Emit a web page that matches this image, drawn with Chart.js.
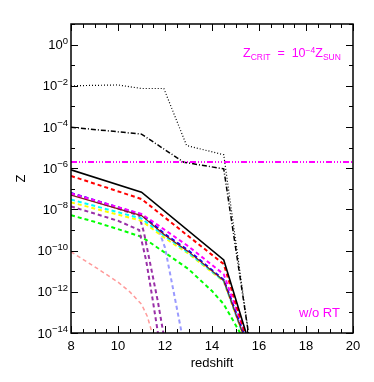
<!DOCTYPE html>
<html>
<head>
<meta charset="utf-8">
<script src="https://cdn.jsdelivr.net/npm/chart.js@4"></script>
<style>
  html, body { margin: 0; padding: 0; background: #fff; }
  #wrap { width: 374px; height: 382px; position: relative; }
</style>
</head>
<body>
<div id="wrap"><canvas id="metalChart"></canvas></div>
<script>
// axis setup
const xRange = [8, 20];
const xMinorStep = 0.5;
const yRange = [1e-14, 10];
const yTickExps = [0, -2, -4, -6, -8, -10, -12, -14];

// curves (redshift, Z)
const zDotted = [8, 9, 10, 11, 11.95, 12.92, 14.5, 15.55];
const valDotted = [1.0e-2, 1.05e-2, 1.1e-2, 7.4e-3, 7.4e-3, 1.26e-5, 4.5e-6, 1e-14];

const zDashDot = [8, 11, 12.8, 14.5, 15.55];
const valDashDot = [9.8e-5, 4.5e-5, 1.95e-6, 9.3e-7, 1e-14];

const zCrit = [8, 20];
const valCrit = [2e-6, 2e-6];

const zSolid = [8, 11, 14.5, 15.45];
const valSolid = [8.3e-7, 6.9e-8, 3.5e-11, 1e-14];

const zRed = [8, 11, 14.5, 15.4];
const valRed = [4.2e-7, 3.2e-8, 2.2e-11, 1e-14];

const zMagenta = [8, 11, 12, 13, 14.5, 15.4];
const valMagenta = [6.0e-8, 6.0e-9, 1.0e-9, 1.6e-10, 7.1e-12, 1e-14];

const zBlue = [8, 11, 12, 13, 14.5, 15.35];
const valBlue = [6.3e-8, 5.6e-9, 6.3e-10, 1.0e-10, 3.8e-12, 1e-14];

const zDarkRed = [8, 11, 12, 13, 14.5, 15.3];
const valDarkRed = [5.0e-8, 5.0e-9, 5.6e-10, 8.9e-11, 3.5e-12, 1e-14];

const zCyan = [8, 11, 12, 13, 14.5, 15.3];
const valCyan = [3.0e-8, 3.6e-9, 5.0e-10, 7.9e-11, 3.4e-12, 1e-14];

const zYellow = [8, 11, 12, 13, 14.5, 15.3];
const valYellow = [2.2e-8, 2.8e-9, 4.0e-10, 7.1e-11, 3.2e-12, 1e-14];

const zGreen = [8, 9, 10, 11, 12, 13, 14, 14.5, 15.2];
const valGreen = [5.2e-9, 2.5e-9, 1.1e-9, 4.7e-10, 7.9e-11, 1.26e-11, 1.1e-12, 2.5e-13, 1e-14];

const zPurpleA = [8, 10, 10.9, 11.1, 11.4, 11.7, 11.93];
const valPurpleA = [5.6e-8, 1.1e-8, 5.0e-9, 7.9e-10, 1.6e-11, 3.2e-13, 1e-14];

const zPurpleB = [8, 9, 10, 10.9, 11.2, 11.45, 11.7];
const valPurpleB = [1.4e-8, 6.3e-9, 2.8e-9, 1.0e-9, 3.2e-11, 6.3e-13, 1e-14];

const zLightBlue = [8, 11, 11.7, 12.0, 12.71];
const valLightBlue = [6.0e-8, 5.6e-9, 1.26e-9, 1.4e-10, 1e-14];

const zSalmon = [8, 9, 10, 10.5, 11, 11.25, 11.45];
const valSalmon = [8.7e-11, 1.66e-11, 2.95e-12, 1.0e-12, 2.5e-13, 6.3e-14, 1e-14];

const FONT = '"Liberation Sans", Arial, sans-serif';
const MAGENTA = '#ff00ff';

function pts(zs, vals) {
    return zs.map((z, i) => ({ x: z, y: vals[i] }));
}

function series(zs, vals, color, width, dash) {
    return {
        data: pts(zs, vals),
        borderColor: color,
        borderWidth: width,
        borderDash: dash,
        pointRadius: 0,
        fill: false,
        tension: 0
    };
}

const DASH = [4, 3];

// inward ticks on all four sides, frame, superscript labels, notes
const idlFrame = {
    id: 'idlFrame',
    afterDraw(chart) {
        const { ctx, chartArea: a, scales: { x, y } } = chart;
        ctx.save();
        ctx.strokeStyle = '#000';
        ctx.lineWidth = 1;
        ctx.beginPath();
        for (let v = xRange[0]; v <= xRange[1] + 1e-9; v += xMinorStep) {
            const px = Math.round(x.getPixelForValue(v)) + 0.5;
            const len = (Math.abs(v % 2) < 1e-9) ? 7 : 4;
            ctx.moveTo(px, a.bottom); ctx.lineTo(px, a.bottom - len);
            ctx.moveTo(px, a.top); ctx.lineTo(px, a.top + len);
        }
        for (let e = -14; e <= 1; e++) {
            const py = Math.round(y.getPixelForValue(Math.pow(10, e))) + 0.5;
            const len = (e % 2 === 0) ? 7 : 4;
            ctx.moveTo(a.left, py); ctx.lineTo(a.left + len, py);
            ctx.moveTo(a.right, py); ctx.lineTo(a.right - len, py);
        }
        ctx.stroke();
        ctx.lineWidth = 1.5;
        ctx.strokeRect(a.left, a.top, a.right - a.left, a.bottom - a.top);

        // y tick labels 10^n
        ctx.fillStyle = '#000';
        ctx.textAlign = 'right';
        ctx.textBaseline = 'alphabetic';
        yTickExps.forEach(e => {
            const py = y.getPixelForValue(Math.pow(10, e));
            const expTxt = e < 0 ? '\u2212' + Math.abs(e) : String(e);
            ctx.font = '9.5px ' + FONT;
            const w = ctx.measureText(expTxt).width;
            ctx.fillText(expTxt, 68, py - 1);
            ctx.font = '13px ' + FONT;
            ctx.fillText('10', 68 - w, py + 4.6);
        });

        // annotations
        ctx.fillStyle = MAGENTA;
        ctx.textAlign = 'left';
        let cx = 243;
        const put = (txt, size, dy) => {
            ctx.font = size + 'px ' + FONT;
            ctx.fillText(txt, cx, 56.5 + dy);
            cx += ctx.measureText(txt).width;
        };
        put('Z', 12.5, 0);
        put('CRIT', 8.5, 3.5);
        put('  =  ', 12.5, 0);
        put('10', 12.5, 0);
        put('\u22124', 8.5, -4);
        put('Z', 12.5, 0);
        put('SUN', 8.5, 3.5);

        ctx.font = '13px ' + FONT;
        ctx.fillText('w/o RT', 299, 316.5);
        ctx.restore();
    }
};

const ctx = document.getElementById('metalChart').getContext('2d');
new Chart(ctx, {
    type: 'line',
    data: {
        datasets: [
            series(zSolid, valSolid, '#000000', 1.6, []),
            series(zCrit, valCrit, MAGENTA, 2, [6, 2, 1, 2, 1, 2, 1, 2]),
            series(zDotted, valDotted, '#000000', 1.2, [1, 2]),
            series(zDashDot, valDashDot, '#000000', 1.5, [5, 2, 1, 2]),
            series(zRed, valRed, '#ff0000', 2, DASH),
            series(zMagenta, valMagenta, MAGENTA, 2, DASH),
            series(zDarkRed, valDarkRed, '#8b1a1a', 1.2, []),
            series(zBlue, valBlue, '#0000ff', 2, DASH),
            series(zCyan, valCyan, '#00ffff', 2, DASH),
            series(zYellow, valYellow, '#ffff00', 2, DASH),
            series(zLightBlue, valLightBlue, '#9a9aff', 2, DASH),
            series(zPurpleA, valPurpleA, '#9a30a8', 2, DASH),
            series(zPurpleB, valPurpleB, '#9a30a8', 2, DASH),
            series(zGreen, valGreen, '#00ff00', 2, DASH),
            series(zSalmon, valSalmon, '#ff9a9a', 1.5, DASH)
        ]
    },
    options: {
        responsive: true,
        maintainAspectRatio: false,
        animation: false,
        layout: { padding: { top: 24, right: 21, left: 0, bottom: 0 } },
        plugins: {
            legend: { display: false },
            tooltip: { enabled: false }
        },
        scales: {
            x: {
                type: 'linear',
                min: xRange[0],
                max: xRange[1],
                grid: { display: false, drawTicks: false },
                border: { display: false },
                ticks: {
                    stepSize: 2,
                    maxRotation: 0,
                    padding: 6,
                    color: '#000',
                    font: { family: FONT, size: 13 }
                },
                title: {
                    display: true,
                    text: 'redshift',
                    color: '#000',
                    font: { family: FONT, size: 13 },
                    padding: { top: 0, bottom: 11 }
                },
                afterFit(scale) { scale.height = 49; }
            },
            y: {
                type: 'logarithmic',
                min: yRange[0],
                max: yRange[1],
                grid: { display: false, drawTicks: false },
                border: { display: false },
                ticks: { display: false },
                title: {
                    display: true,
                    text: 'Z',
                    color: '#000',
                    font: { family: FONT, size: 13 },
                    padding: { top: 14, bottom: 0 }
                },
                afterFit(scale) { scale.width = 71; }
            }
        }
    },
    plugins: [idlFrame]
});
</script>
</body>
</html>
